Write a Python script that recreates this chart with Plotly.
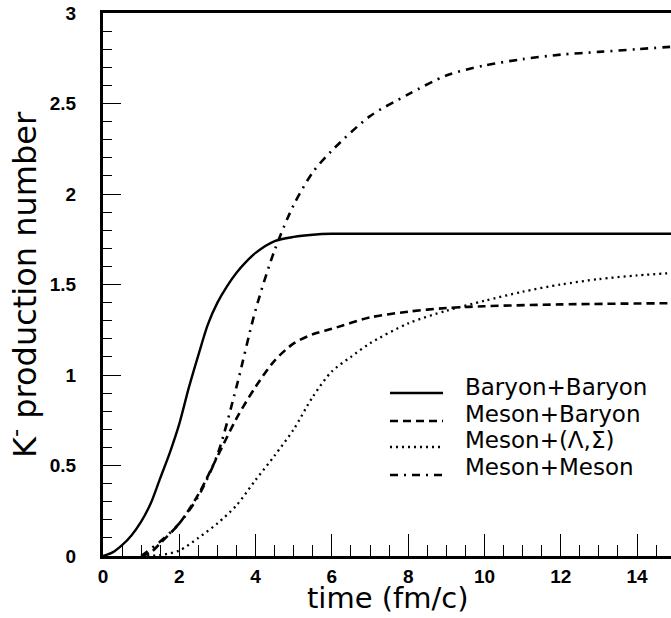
import plotly.graph_objects as go

# K- production number versus time, split by production channel
time_bb = [0, 0.25, 0.5, 0.75, 1.0, 1.25, 1.5, 1.75, 2.0, 2.25, 2.5, 2.75, 3.0, 3.25, 3.5, 3.75, 4.0, 4.5, 5.0, 5.5, 6.0, 8.0, 10.0, 12.0, 15.0]
baryon_baryon = [0, 0.02, 0.06, 0.115, 0.19, 0.29, 0.43, 0.57, 0.73, 0.93, 1.11, 1.28, 1.40, 1.49, 1.565, 1.625, 1.675, 1.74, 1.763, 1.775, 1.78, 1.78, 1.78, 1.78, 1.78]

time_mb = [1.0, 1.25, 1.5, 2.0, 2.5, 3.0, 3.5, 4.0, 4.5, 5.0, 5.5, 6.0, 7.0, 8.0, 9.0, 10.0, 12.0, 15.0]
meson_baryon = [0, 0.02, 0.07, 0.18, 0.34, 0.55, 0.76, 0.935, 1.08, 1.175, 1.225, 1.255, 1.318, 1.35, 1.37, 1.38, 1.39, 1.397]

time_ml = [1.0, 1.5, 2.0, 2.5, 3.0, 3.5, 4.0, 4.5, 5.0, 5.5, 6.0, 6.5, 7.0, 8.0, 9.0, 10.0, 11.0, 12.0, 13.0, 14.0, 15.0]
meson_lambda_sigma = [0, 0.005, 0.03, 0.10, 0.18, 0.28, 0.42, 0.555, 0.70, 0.88, 1.02, 1.10, 1.175, 1.285, 1.355, 1.41, 1.46, 1.50, 1.53, 1.55, 1.565]

time_mm = [1.0, 1.5, 2.0, 2.5, 3.0, 3.5, 4.0, 4.5, 5.0, 5.5, 6.0, 7.0, 8.0, 9.0, 10.0, 11.0, 12.0, 13.0, 14.0, 15.0]
meson_meson = [0, 0.08, 0.18, 0.33, 0.56, 0.935, 1.36, 1.69, 1.94, 2.12, 2.24, 2.43, 2.55, 2.655, 2.71, 2.745, 2.77, 2.785, 2.80, 2.815]

legend_labels = ["Baryon+Baryon", "Meson+Baryon", "Meson+(\u039b,\u03a3)", "Meson+Meson"]
x_ticks = [0, 2, 4, 6, 8, 10, 12, 14]
x_tick_text = ["0", "2", "4", "6", "8", "10", "12", "14"]
y_ticks = [0, 0.5, 1, 1.5, 2, 2.5, 3]
y_tick_text = ["0", "0.5", "1", "1.5", "2", "2.5", "3"]

W, H = 671, 618
ML, MR, MT, MB = 103, 0, 13, 62
PW, PH = W - ML - MR, H - MT - MB

TEXT_FONT = "DejaVu Sans"
TICK_FONT = "Liberation Sans"

styles = [
    dict(dash="solid", width=2.4),
    dict(dash="8px,5px", width=2.6),
    dict(dash="2px,4px", width=2.3),
    dict(dash="8px,6px,2px,6px", width=2.6),
]
series = [
    (time_bb, baryon_baryon),
    (time_mb, meson_baryon),
    (time_ml, meson_lambda_sigma),
    (time_mm, meson_meson),
]

fig = go.Figure()
for (t, v), st, name in zip(series, styles, legend_labels):
    fig.add_trace(go.Scatter(
        x=t, y=v, mode="lines", name=name, showlegend=False,
        line=dict(color="black", width=st["width"], dash=st["dash"], shape="spline", smoothing=0.8),
    ))


def px_x(p):
    return (p - ML) / PW


def px_y(p):
    return (H - MB - p) / PH


# legend: line sample + label per channel
row_line_y = [393, 421, 447, 475]
row_text_y = [387, 414, 440, 467]
shapes = []
annotations = []
for st, name, ly, ty in zip(styles, legend_labels, row_line_y, row_text_y):
    shapes.append(dict(
        type="line", xref="paper", yref="paper",
        x0=px_x(390), x1=px_x(443), y0=px_y(ly), y1=px_y(ly),
        line=dict(color="black", width=st["width"], dash=st["dash"]),
    ))
    annotations.append(dict(
        text=name, xref="paper", yref="paper", x=px_x(463), y=px_y(ty),
        xanchor="left", yanchor="middle", showarrow=False,
        font=dict(family=TEXT_FONT, size=23, color="black"),
    ))

# axis titles
annotations.append(dict(
    text="time (fm/c)", xref="paper", yref="paper", x=px_x(388), y=px_y(598),
    xanchor="center", yanchor="middle", showarrow=False,
    font=dict(family=TEXT_FONT, size=29, color="black"),
))
annotations.append(dict(
    text="K<sup>-</sup> production number", xref="paper", yref="paper",
    x=px_x(23), y=px_y(285), xanchor="center", yanchor="middle", textangle=-90,
    showarrow=False, font=dict(family=TEXT_FONT, size=32, color="black"),
))

fig.update_layout(
    width=W, height=H,
    margin=dict(l=ML, r=MR, t=MT, b=MB, pad=0),
    paper_bgcolor="white", plot_bgcolor="white",
    showlegend=False,
    shapes=shapes, annotations=annotations,
)
fig.update_xaxes(
    range=[0, 14.89], showgrid=False, zeroline=False,
    showline=True, linecolor="black", linewidth=3, mirror=True,
    ticks="inside", ticklen=22, tickwidth=1.3, tickcolor="black",
    tickvals=x_ticks, ticktext=["<b>%s</b>" % s for s in x_tick_text],
    ticklabelstandoff=1,
    tickfont=dict(family=TICK_FONT, size=19, color="black"),
    minor=dict(dtick=0.5, tick0=0, ticks="inside", ticklen=11, tickwidth=1.3, tickcolor="black", showgrid=False),
)
fig.update_yaxes(
    range=[0, 3], showgrid=False, zeroline=False,
    showline=True, linecolor="black", linewidth=3, mirror=False,
    ticks="inside", ticklen=18, tickwidth=1.3, tickcolor="black",
    tickvals=y_ticks, ticktext=["<b>%s</b>" % s for s in y_tick_text],
    ticklabelstandoff=20,
    tickfont=dict(family=TICK_FONT, size=19, color="black"),
    minor=dict(dtick=0.1, tick0=0, ticks="inside", ticklen=9, tickwidth=1.3, tickcolor="black", showgrid=False),
)

fig.write_html("out.html")
